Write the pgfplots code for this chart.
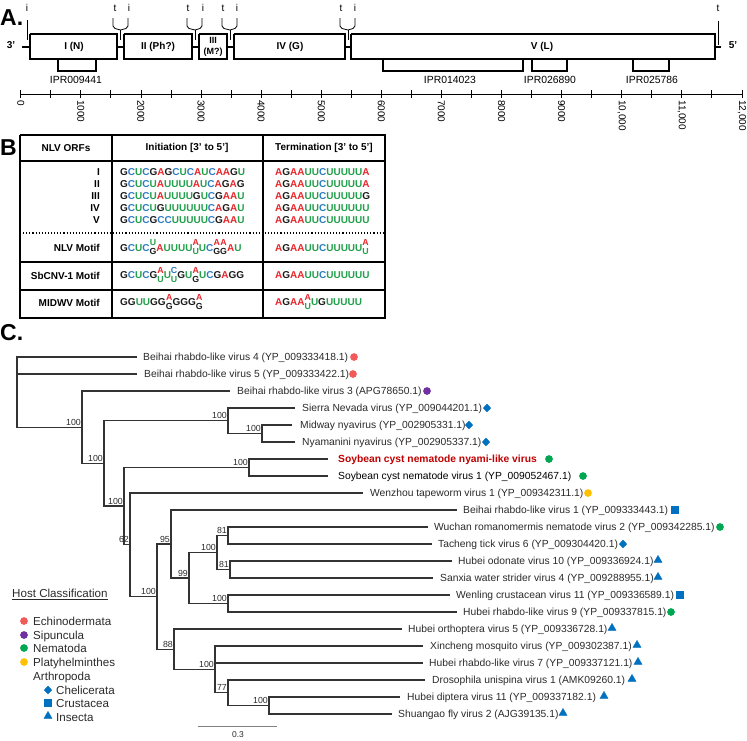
\documentclass[border=0pt]{standalone}
\usepackage{pgfplots}
\pgfplotsset{compat=1.18}
\usepackage{fontspec}
\setmainfont{Liberation Sans}
\definecolor{ntA}{HTML}{E8262B}
\definecolor{ntC}{HTML}{2B7BC4}
\definecolor{ntG}{HTML}{1A1A1A}
\definecolor{ntU}{HTML}{22A04B}
\definecolor{hRed}{HTML}{F25A5A}
\definecolor{hPur}{HTML}{7030A0}
\definecolor{hGrn}{HTML}{00A651}
\definecolor{hYel}{HTML}{FFC000}
\definecolor{hBlu}{HTML}{0070C0}
\definecolor{scn}{HTML}{C00000}
\definecolor{treecol}{HTML}{333333}
\definecolor{labcol}{HTML}{2A2A2A}
\makeatletter
\def\nt#1{\ifx#1A\textcolor{ntA}{A}\else\ifx#1C\textcolor{ntC}{C}\else\ifx#1G\textcolor{ntG}{G}\else\ifx#1U\textcolor{ntU}{U}\fi\fi\fi\fi}
\def\seq#1{\seq@loop#1\relax}
\def\seq@loop#1{\ifx#1\relax\else\nt{#1}\expandafter\seq@loop\fi}
\makeatother
\newcommand\stk[2]{{\fontsize{8.8}{8.8}\selectfont\ooalign{\hfil\raisebox{5.3pt}{\nt{#1}}\hfil\cr\hfil\raisebox{-3.4pt}{\nt{#2}}\hfil\cr}}}
\newcommand\mytf{\fontsize{10.3}{12}\selectfont}
\newcommand\mybf{\fontsize{10}{12}\selectfont\bfseries}
\newcommand\leaf[3]{\node[anchor=base west,inner sep=0pt,yshift=-3.7pt,font=\mytf,text=labcol] at (axis cs:#1,#2) {#3};}
\newcommand\supv[3]{\node[anchor=base east,inner sep=0pt,font=\fontsize{8.8}{10}\selectfont,text=labcol] at (axis cs:#1,#2) {#3};}
\newcommand\brk[5]{\addplot[tree] coordinates {(#2,#3) (#1,#3) (#1,#5) (#4,#5)};}
\newcommand\seqrow[3]{\node[anchor=base west,inner sep=0pt,yshift=-3.6pt,font=\mybf] at (axis cs:#1,#2) {#3};}
\newcommand\rlab[3]{\node[anchor=base east,inner sep=0pt,yshift=-3.6pt,font=\mybf] at (axis cs:#1,#2) {#3};}
\newcommand\rul[2]{\node[rotate=-90,anchor=west,inner sep=0pt,font=\fontsize{10}{12}\selectfont] at (axis cs:#1,100) {#2};}
\begin{document}
\begin{tikzpicture}
\begin{axis}[scale only axis, width=747pt, height=740pt, xmin=0, xmax=747, ymin=0, ymax=740,
  y dir=reverse, hide axis, clip=false,
  tree/.style={line width=1.3pt, color=treecol, line join=miter},
  gen/.style={line width=1.1pt, black}]
% ---------------- Panel A ----------------
\node[anchor=base west,inner sep=0pt,font=\fontsize{23}{24}\selectfont\bfseries] at (axis cs:0,25) {A.};
\addplot[line width=2.2pt, black] coordinates {(22,47) (30,47)};
\addplot[line width=2.2pt, black] coordinates {(117,47) (124,47)};
\addplot[line width=2.2pt, black] coordinates {(192,47) (199,47)};
\addplot[line width=2.2pt, black] coordinates {(227,47) (234,47)};
\addplot[line width=2.2pt, black] coordinates {(345,47) (351,47)};
\addplot[line width=2.2pt, black] coordinates {(715,47) (721,47)};
\addplot[gen, fill=white] coordinates {(30,34) (117,34) (117,59) (30,59) (30,34)};
\addplot[gen, fill=white] coordinates {(124,34) (192,34) (192,59) (124,59) (124,34)};
\addplot[gen, fill=white] coordinates {(199,34) (227,34) (227,59) (199,59) (199,34)};
\addplot[gen, fill=white] coordinates {(234,34) (345,34) (345,59) (234,59) (234,34)};
\addplot[gen, fill=white] coordinates {(351,34) (715,34) (715,59) (351,59) (351,34)};
\node[font=\mybf] at (axis cs:74,47) {I (N)};
\node[font=\mybf] at (axis cs:158,47) {II (Ph?)};
\node[font=\fontsize{9}{10}\selectfont\bfseries] at (axis cs:213,40) {III};
\node[font=\fontsize{9}{10}\selectfont\bfseries] at (axis cs:213,52.5) {(M?)};
\node[font=\mybf] at (axis cs:290,47) {IV (G)};
\node[font=\mybf] at (axis cs:542,47) {V (L)};
\node[font=\mybf] at (axis cs:11,45) {3'};
\node[font=\mybf] at (axis cs:733,45) {5'};
\addplot[line width=0.8pt, black] coordinates {(27,20) (27,40)};
\addplot[line width=0.8pt, black] coordinates {(718,21) (718,45)};
\addplot[line width=0.8pt, black] coordinates {(113,18) (113,26) (115,28.5) (120.5,30) (126,28.5) (128,26) (128,18)};
\addplot[line width=0.8pt, black] coordinates {(120.5,30) (120.5,40)};
\addplot[line width=0.8pt, black] coordinates {(187,18) (187,26) (189,28.5) (195,30) (200,28.5) (202,26) (202,18)};
\addplot[line width=0.8pt, black] coordinates {(195,30) (195,40)};
\addplot[line width=0.8pt, black] coordinates {(222,18) (222,26) (224,28.5) (230,30) (235,28.5) (237,26) (237,18)};
\addplot[line width=0.8pt, black] coordinates {(230,30) (230,40)};
\addplot[line width=0.8pt, black] coordinates {(340,18) (340,26) (342,28.5) (348,30) (353,28.5) (355,26) (355,18)};
\addplot[line width=0.8pt, black] coordinates {(348,30) (348,40)};
\node[font=\fontsize{10}{12}\selectfont] at (axis cs:27,8) {i};
\node[font=\fontsize{10}{12}\selectfont] at (axis cs:115,8) {t};
\node[font=\fontsize{10}{12}\selectfont] at (axis cs:129,8) {i};
\node[font=\fontsize{10}{12}\selectfont] at (axis cs:188,8) {t};
\node[font=\fontsize{10}{12}\selectfont] at (axis cs:203,8) {i};
\node[font=\fontsize{10}{12}\selectfont] at (axis cs:223,8) {t};
\node[font=\fontsize{10}{12}\selectfont] at (axis cs:237,8) {i};
\node[font=\fontsize{10}{12}\selectfont] at (axis cs:341,8) {t};
\node[font=\fontsize{10}{12}\selectfont] at (axis cs:355,8) {i};
\node[font=\fontsize{10}{12}\selectfont] at (axis cs:718,8) {t};
\addplot[line width=1.2pt, black] coordinates {(58,60) (58,71) (96,71) (96,60)};
\addplot[line width=1.2pt, black] coordinates {(383,60) (383,71) (523,71) (523,60)};
\addplot[line width=1.2pt, black] coordinates {(532,60) (532,71) (567,71) (567,60)};
\addplot[line width=1.2pt, black] coordinates {(633,60) (633,71) (669,71) (669,60)};
\node[font=\fontsize{10.4}{12}\selectfont] at (axis cs:76,80) {IPR009441};
\node[font=\fontsize{10.4}{12}\selectfont] at (axis cs:450,80) {IPR014023};
\node[font=\fontsize{10.4}{12}\selectfont] at (axis cs:550,80) {IPR026890};
\node[font=\fontsize{10.4}{12}\selectfont] at (axis cs:652,80) {IPR025786};
\addplot[line width=0.8pt, black] coordinates {(20.7,94) (741.9,94)};
\addplot[only marks, mark=|, mark size=4pt, mark options={line width=0.8pt, black}] coordinates {
(20.7,94) (50.75,94) (80.8,94) (110.85,94) (140.9,94) (170.95,94) (201.0,94) (231.05,94)
(261.1,94) (291.15,94) (321.2,94) (351.25,94) (381.3,94) (411.35,94) (441.4,94) (471.45,94)
(501.5,94) (531.55,94) (561.6,94) (591.65,94) (621.7,94) (651.75,94) (681.8,94) (711.85,94) (741.9,94)};
\rul{20.7}{0}\rul{80.8}{1000}\rul{140.9}{2000}\rul{201.0}{3000}\rul{261.1}{4000}
\rul{321.2}{5000}\rul{381.3}{6000}\rul{441.4}{7000}\rul{501.5}{8000}\rul{561.6}{9000}
\rul{621.7}{10,000}\rul{681.8}{11,000}\rul{741.9}{12,000}
% ---------------- Panel B ----------------
\node[anchor=base west,inner sep=0pt,font=\fontsize{23}{24}\selectfont\bfseries] at (axis cs:0,155) {B};
\addplot[line width=1.2pt, black] coordinates {(20,135) (385,135) (385,318) (20,318) (20,135)};
\addplot[line width=1.2pt, black] coordinates {(112,135) (112,318)};
\addplot[line width=1.2pt, black] coordinates {(263,135) (263,318)};
\addplot[line width=1.2pt, black] coordinates {(20,161) (385,161)};
\addplot[line width=1.1pt, black, dotted] coordinates {(20,233) (385,233)};
\addplot[line width=1.2pt, black] coordinates {(20,262) (385,262)};
\addplot[line width=1.2pt, black] coordinates {(20,290) (385,290)};
\node[font=\mybf] at (axis cs:66,148) {NLV ORFs};
\node[font=\mybf] at (axis cs:187,148) {Initiation [3' to 5']};
\node[font=\mybf] at (axis cs:324,148) {Termination [3' to 5']};
\rlab{100}{171.5}{I}\rlab{100}{183.7}{II}\rlab{100}{195.9}{III}\rlab{100}{208.1}{IV}\rlab{100}{220.3}{V}
\seqrow{120}{171.5}{\seq{GCUCGAGCUCAUCAAGU}}
\seqrow{120}{183.7}{\seq{GCUCUAUUUUAUCAGAG}}
\seqrow{120}{195.9}{\seq{GCUCUAUUUUGUCGAAU}}
\seqrow{120}{208.1}{\seq{GCUCUGUUUUUUCAGAU}}
\seqrow{120}{220.3}{\seq{GCUCGCCUUUUUCGAAU}}
\seqrow{275}{171.5}{\seq{AGAAUUCUUUUUA}}
\seqrow{275}{183.7}{\seq{AGAAUUCUUUUUA}}
\seqrow{275}{195.9}{\seq{AGAAUUCUUUUUG}}
\seqrow{275}{208.1}{\seq{AGAAUUCUUUUUU}}
\seqrow{275}{220.3}{\seq{AGAAUUCUUUUUU}}
\rlab{100}{248}{NLV Motif}\rlab{100}{275.5}{SbCNV-1 Motif}\rlab{100}{302.5}{MIDWV Motif}
\seqrow{120}{247.5}{\seq{GCUC}\stk{U}{G}\seq{AUUUU}\stk{A}{U}\seq{UC}\stk{A}{G}\stk{A}{G}\seq{AU}}
\seqrow{120}{275}{\seq{GCUCG}\stk{A}{U}\seq{U}\stk{C}{U}\seq{GU}\stk{A}{G}\seq{UCGAGG}}
\seqrow{120}{302}{\seq{GGUUGG}\stk{A}{G}\seq{GGG}\stk{A}{G}}
\seqrow{275}{247.5}{\seq{AGAAUUCUUUUU}\stk{A}{U}}
\seqrow{275}{275}{\seq{AGAAUUCUUUUUU}}
\seqrow{275}{302}{\seq{AGAA}\stk{A}{U}\seq{UGUUUUU}}
% ---------------- Panel C ----------------
\node[anchor=base west,inner sep=0pt,font=\fontsize{23}{24}\selectfont\bfseries] at (axis cs:0,340) {C.};
\brk{17}{137}{357}{82}{427.2}
\addplot[tree] coordinates {(17,374) (137,374)};
\brk{82}{230}{391}{104}{463.4}
\brk{104}{228}{420.8}{124}{506}
\brk{228}{295}{408}{262}{433.5}
\brk{262}{292}{425}{295}{442}
\brk{124}{249}{467.5}{130}{544.8}
\brk{249}{328}{459}{328}{476}
\brk{130}{363}{493}{157}{596.6}
\brk{157}{171}{544}{174}{649.2}
\brk{171}{457}{510}{189}{578}
\brk{189}{217}{552.5}{228}{603.5}
\brk{217}{228}{535.5}{230}{569.5}
\brk{228}{428}{527}{432}{544}
\brk{230}{452}{561}{433}{578}
\brk{228}{450}{595}{457}{612}
\brk{174}{402}{629}{215}{669.4}
\brk{215}{423}{646}{228}{692.75}
\addplot[tree] coordinates {(215,663) (423,663)};
\brk{228}{425}{680}{269}{705.5}
\brk{269}{400}{697}{392}{714}
\supv{81}{425}{100}\supv{103}{461}{100}\supv{227}{418.5}{100}\supv{261}{431.5}{100}
\supv{123}{504}{100}\supv{248}{465.5}{100}\supv{129}{542.5}{62}\supv{156}{594.5}{100}
\supv{170}{542}{95}\supv{188}{576}{99}\supv{216}{550.5}{100}\supv{227}{533.5}{81}
\supv{229}{567.5}{81}\supv{227}{601.5}{100}\supv{173}{647}{88}\supv{214}{667}{100}
\supv{227}{690.5}{77}\supv{268}{703.5}{100}
\leaf{143}{357}{Beihai rhabdo-like virus 4 (YP\_009333418.1)}
\leaf{144}{374}{Beihai rhabdo-like virus 5 (YP\_009333422.1)}
\leaf{237}{391}{Beihai rhabdo-like virus 3 (APG78650.1)}
\leaf{302}{408}{Sierra Nevada virus (YP\_009044201.1)}
\leaf{300}{425}{Midway nyavirus (YP\_002905331.1)}
\leaf{302}{442}{Nyamanini nyavirus (YP\_002905337.1)}
\node[anchor=base west,inner sep=0pt,yshift=-3.7pt,font=\mytf\bfseries,text=scn] at (axis cs:338,459) {Soybean cyst nematode nyami-like virus};
\node[anchor=base west,inner sep=0pt,yshift=-3.7pt,font=\mytf,text=black] at (axis cs:338,476) {Soybean cyst nematode virus 1 (YP\_009052467.1)};
\leaf{370}{493}{Wenzhou tapeworm virus 1 (YP\_009342311.1)}
\leaf{463}{510}{Beihai rhabdo-like virus 1 (YP\_009333443.1)}
\leaf{434}{527}{Wuchan romanomermis nematode virus 2 (YP\_009342285.1)}
\leaf{438}{544}{Tacheng tick virus 6 (YP\_009304420.1)}
\leaf{458}{561}{Hubei odonate virus 10 (YP\_009336924.1)}
\leaf{440}{578}{Sanxia water strider virus 4 (YP\_009288955.1)}
\leaf{456}{595}{Wenling crustacean virus 11 (YP\_009336589.1)}
\leaf{463}{612}{Hubei rhabdo-like virus 9 (YP\_009337815.1)}
\leaf{408}{629}{Hubei orthoptera virus 5 (YP\_009336728.1)}
\leaf{430}{646}{Xincheng mosquito virus (YP\_009302387.1)}
\leaf{429}{663}{Hubei rhabdo-like virus 7 (YP\_009337121.1)}
\leaf{432}{680}{Drosophila unispina virus 1 (AMK09260.1)}
\leaf{407}{697}{Hubei diptera virus 11 (YP\_009337182.1)}
\leaf{398}{714}{Shuangao fly virus 2 (AJG39135.1)}
\addplot[only marks, mark=*, mark size=3.6pt, color=hRed] coordinates {(354,357) (353,374) (24,621)};
\addplot[only marks, mark=*, mark size=3.6pt, color=hPur] coordinates {(427,391) (24,635)};
\addplot[only marks, mark=*, mark size=3.6pt, color=hGrn] coordinates {(549,459) (583,476) (720,527) (671,612) (24,648)};
\addplot[only marks, mark=*, mark size=3.6pt, color=hYel] coordinates {(588,493) (24,662)};
\addplot[only marks, mark=diamond*, mark size=3.8pt, mark options={xscale=1.3}, color=hBlu] coordinates {(487,408) (469,425) (486,442) (623,544) (48,690)};
\addplot[only marks, mark=square*, mark size=3.4pt, color=hBlu] coordinates {(675,510) (680,595) (48,703)};
\addplot[only marks, mark=triangle*, mark size=4.6pt, color=hBlu] coordinates {(658,560) (658,577) (612,628) (637,645) (638,662) (632,679) (604,696) (563,713) (48,716)};
\node[anchor=base west,inner sep=0pt,yshift=-4.2pt,font=\fontsize{11.6}{13}\selectfont,text=labcol] at (axis cs:12,593) {\underline{Host Classification}};
\node[anchor=base west,inner sep=0pt,yshift=-4.2pt,font=\fontsize{11.6}{13}\selectfont,text=labcol] at (axis cs:33,621) {Echinodermata};
\node[anchor=base west,inner sep=0pt,yshift=-4.2pt,font=\fontsize{11.6}{13}\selectfont,text=labcol] at (axis cs:33,635) {Sipuncula};
\node[anchor=base west,inner sep=0pt,yshift=-4.2pt,font=\fontsize{11.6}{13}\selectfont,text=labcol] at (axis cs:33,648) {Nematoda};
\node[anchor=base west,inner sep=0pt,yshift=-4.2pt,font=\fontsize{11.6}{13}\selectfont,text=labcol] at (axis cs:33,662) {Platyhelminthes};
\node[anchor=base west,inner sep=0pt,yshift=-4.2pt,font=\fontsize{11.6}{13}\selectfont,text=labcol] at (axis cs:33,676) {Arthropoda};
\node[anchor=base west,inner sep=0pt,yshift=-4.2pt,font=\fontsize{11.6}{13}\selectfont,text=labcol] at (axis cs:56,690) {Chelicerata};
\node[anchor=base west,inner sep=0pt,yshift=-4.2pt,font=\fontsize{11.6}{13}\selectfont,text=labcol] at (axis cs:56,703) {Crustacea};
\node[anchor=base west,inner sep=0pt,yshift=-4.2pt,font=\fontsize{11.6}{13}\selectfont,text=labcol] at (axis cs:56,717) {Insecta};
\addplot[line width=0.9pt, gray] coordinates {(198,726) (277,726)};
\node[font=\fontsize{8.5}{10}\selectfont,text=labcol] at (axis cs:238,735) {0.3};
\end{axis}
\pgfresetboundingbox
\path (current axis.south west) rectangle (current axis.north east);
\end{tikzpicture}
\end{document}
